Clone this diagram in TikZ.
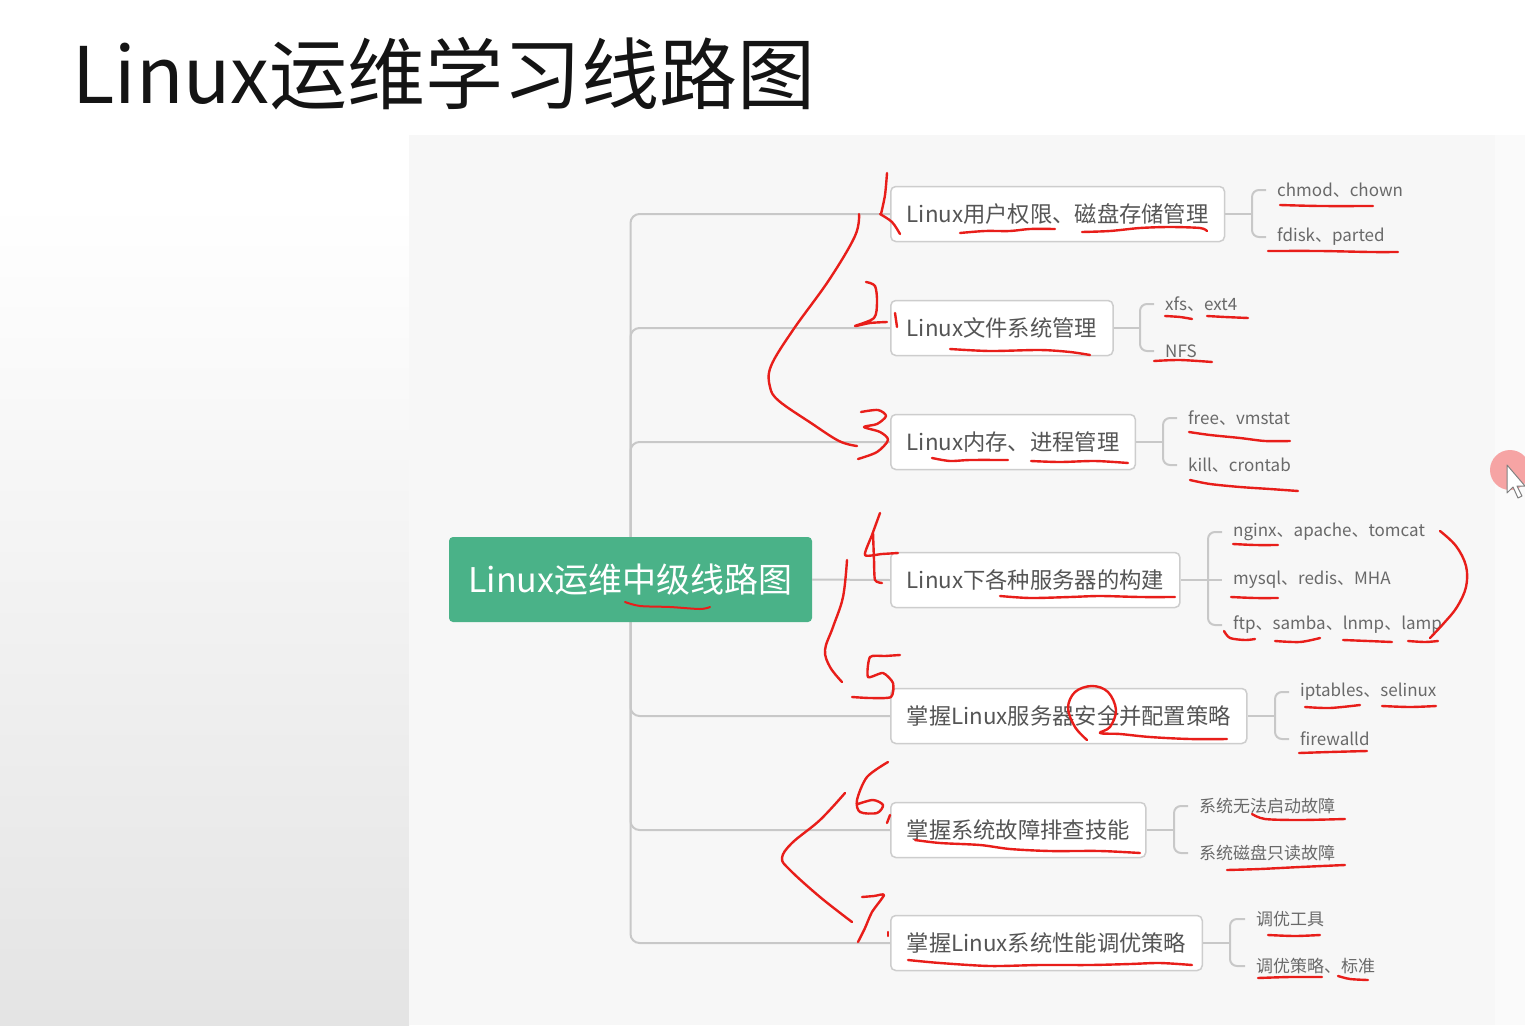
\documentclass[tikz,border=0pt]{standalone}
\usepackage{fontspec}
\setmainfont{Noto Sans CJK SC}
\definecolor{linegray}{RGB}{200,200,200}
\definecolor{boxgray}{RGB}{205,205,205}
\definecolor{textgray}{RGB}{85,85,85}
\definecolor{leafgray}{RGB}{105,105,105}
\definecolor{rootgreen}{RGB}{74,178,136}
\definecolor{inkred}{RGB}{232,30,26}
\definecolor{canvasbg}{RGB}{247,247,247}
\definecolor{pinkdot}{RGB}{246,150,150}
\definecolor{leftbottom}{RGB}{228,228,228}
\definecolor{rightbg}{RGB}{250,250,250}
\definecolor{titleblack}{RGB}{20,20,20}
\begin{document}
\begin{tikzpicture}[x=1pt,y=-1pt,
  conn/.style={draw=linegray, line width=2pt, rounded corners=9pt},
  bconn/.style={draw=linegray, line width=2pt, rounded corners=7pt},
  box/.style={draw=boxgray, line width=1.5pt, fill=white, rounded corners=5pt, anchor=west,
    minimum height=55pt, inner xsep=16pt, inner ysep=0pt, text=textgray,
    font=\fontsize{22.3}{27}\selectfont},
  leaf/.style={anchor=west, inner xsep=0pt, inner ysep=2pt, text=leafgray,
    font=\fontsize{17}{20}\selectfont},
  ink/.style={draw=inkred, line width=2.4pt, line cap=round, line join=round}]
\useasboundingbox (0,0) rectangle (1525,1025);
% background
\fill[white] (0,0) rectangle (1525,1025);
\shade[top color=white, bottom color=leftbottom] (0,200) rectangle (409,1025);
\fill[canvasbg] (409,135) rectangle (1495,1025);
\fill[rightbg] (1495,135) rectangle (1525,1025);
% title
\node[anchor=west, inner sep=0pt, text=titleblack, font=\fontsize{78}{94}\selectfont] (title) at (72,74) {Linux运维学习线路图};
% level-1 boxes
\node[box] (b1) at (890,214) {Linux用户权限、磁盘存储管理};
\node[box] (b2) at (890,328) {Linux文件系统管理};
\node[box] (b3) at (890,442) {Linux内存、进程管理};
\node[box] (b4) at (890,580) {Linux下各种服务器的构建};
\node[box] (b5) at (890,716) {掌握Linux服务器安全并配置策略};
\node[box] (b6) at (890,830) {掌握系统故障排查技能};
\node[box] (b7) at (890,943) {掌握Linux系统性能调优策略};
% trunk
\coordinate (hub) at (630.5,579.5);
\draw[conn] (hub) |- (b1.west);
\draw[conn] (hub) |- (b2.west);
\draw[conn] (hub) |- (b3.west);
\draw[conn] (hub) |- (b5.west);
\draw[conn] (hub) |- (b6.west);
\draw[conn] (hub) |- (b7.west);
\node[fill=rootgreen, rounded corners=4pt, minimum width=363pt, minimum height=85pt, inner sep=0pt, text=white, font=\fontsize{34}{40}\selectfont] (root) at (hub) {Linux运维中级线路图};
\draw[conn] (root.east) -- (b4.west);
% leaves
\node[leaf] (c11) at (1277,190) {chmod、chown};
\node[leaf] (c12) at (1277,237) {fdisk、parted};
\node[leaf] (c21) at (1165,304) {xfs、ext4};
\node[leaf] (c22) at (1165,351) {NFS};
\node[leaf] (c31) at (1188,418) {free、vmstat};
\node[leaf] (c32) at (1188,465) {kill、crontab};
\node[leaf] (c41) at (1233,532) {nginx、apache、tomcat};
\node[leaf] (c42) at (1233,580) {mysql、redis、MHA};
\node[leaf] (c43) at (1233,625) {ftp、samba、lnmp、lamp};
\node[leaf] (c51) at (1300,692) {iptables、selinux};
\node[leaf] (c52) at (1300,739) {firewalld};
\node[leaf] (c61) at (1199,806) {系统无法启动故障};
\node[leaf] (c62) at (1199,853) {系统磁盘只读故障};
\node[leaf] (c71) at (1256,919) {调优工具};
\node[leaf] (c72) at (1256,966) {调优策略、标准};
% junctions
\coordinate (j1) at (1252,214);
\coordinate (j2) at (1140,328);
\coordinate (j3) at (1163,442);
\coordinate (j4) at (1208,580);
\coordinate (j5) at (1275,716);
\coordinate (j6) at (1174,830);
\coordinate (j7) at (1230,943);
\draw[bconn] (b1.east) -- (j1);
\draw[bconn] ([xshift=-11pt]c11.west) -| (j1) |- ([xshift=-11pt]c12.west);
\draw[bconn] (b2.east) -- (j2);
\draw[bconn] ([xshift=-11pt]c21.west) -| (j2) |- ([xshift=-11pt]c22.west);
\draw[bconn] (b3.east) -- (j3);
\draw[bconn] ([xshift=-11pt]c31.west) -| (j3) |- ([xshift=-11pt]c32.west);
\draw[bconn] (b4.east) -- ([xshift=-11pt]c42.west);
\draw[bconn] ([xshift=-11pt]c41.west) -| (j4) |- ([xshift=-11pt]c43.west);
\draw[bconn] (b5.east) -- (j5);
\draw[bconn] ([xshift=-11pt]c51.west) -| (j5) |- ([xshift=-11pt]c52.west);
\draw[bconn] (b6.east) -- (j6);
\draw[bconn] ([xshift=-11pt]c61.west) -| (j6) |- ([xshift=-11pt]c62.west);
\draw[bconn] (b7.east) -- (j7);
\draw[bconn] ([xshift=-11pt]c71.west) -| (j7) |- ([xshift=-11pt]c72.west);
% ---------- red handwriting ----------
% numbers
\draw[ink] plot[smooth] coordinates {(887,173) (885,195) (881,214)};
\draw[ink] plot[smooth] coordinates {(880,214) (892,222) (900,234)};
\draw[ink] plot[smooth, tension=0.5] coordinates {(866,282) (875,286) (877,302) (874,318) (855,326) (870,323) (887,322)};
\draw[ink] (895,313) -- (897,327);
\draw[ink] plot[smooth, tension=0.5] coordinates {(861,412) (878,410) (886,416) (877,424) (864,427) (880,432) (888,440) (877,452) (858,459)};
\draw[ink] plot[smooth, tension=0.4] coordinates {(880,513) (872,535) (865,555) (882,554) (898,553)};
\draw[ink] plot[smooth, tension=0.4] coordinates {(873,533) (874,560) (875,580) (882,583)};
\draw[ink] plot[smooth, tension=0.4] coordinates {(900,655) (885,656) (870,657) (868,677) (883,673) (893,683) (891,697) (870,698) (852,697)};
\draw[ink] plot[smooth, tension=0.5] coordinates {(888,762) (867,777) (857,800) (860,812) (877,813) (883,805) (873,800) (858,804)};
\draw[ink] (890,815) -- (887,823);
\draw[ink] plot[smooth, tension=0.4] coordinates {(862,897) (874,896) (884,895) (872,912) (865,928) (858,942)};
\draw[ink] (888,932) -- (888,936);
% braces
\draw[ink] plot[smooth, tension=0.6] coordinates {(859,214) (855,236) (829,280) (793,330) (771,366) (770,387) (779,401) (811,423) (839,441) (857,446)};
\draw[ink] plot[smooth, tension=0.6] coordinates {(847,560) (843,597) (833,627) (825,650) (830,667) (842,682)};
\draw[ink] plot[smooth, tension=0.6] coordinates {(845,793) (820,820) (792,843) (782,858) (790,870) (820,897) (852,922)};
\draw[ink] plot[smooth, tension=0.6] coordinates {(1440,531) (1456,546) (1466,566) (1466,587) (1457,607) (1444,623) (1430,638)};
% underlines
\draw[ink, line width=2pt] plot[smooth] coordinates {(625,602) (640,606) (670,607) (700,609) (710,607)};
\draw[ink] plot[smooth] coordinates {(960,233) (985,231) (1010,231) (1030,229) (1055,229)};
\draw[ink] plot[smooth] coordinates {(1082,232) (1110,231) (1140,228) (1170,227) (1200,228) (1207,231)};
\draw[ink] plot[smooth] coordinates {(950,349) (990,351) (1040,350) (1070,352) (1090,355)};
\draw[ink] plot[smooth] coordinates {(932,458) (950,461) (970,460) (1008,460)};
\draw[ink] plot[smooth] coordinates {(1031,461) (1060,462) (1095,461) (1128,463)};
\draw[ink] plot[smooth] coordinates {(1000,596) (1030,598) (1070,597) (1100,596) (1140,597) (1175,597)};
\draw[ink] plot[smooth, tension=0.6] coordinates {(1087,740) (1075,727) (1068,708) (1075,692) (1092,686) (1108,692) (1116,710) (1110,727) (1100,733) (1120,734) (1150,737) (1190,739) (1227,739)};
\draw[ink] plot[smooth] coordinates {(915,840) (940,843) (980,845) (1010,849) (1050,851) (1100,851) (1140,853)};
\draw[ink] plot[smooth] coordinates {(908,960) (940,963) (990,966) (1040,965) (1090,965) (1130,964) (1160,963) (1192,965)};
\draw[ink] plot[smooth] coordinates {(1280,205) (1320,206) (1373,206)};
\draw[ink] plot[smooth] coordinates {(1268,251) (1320,251) (1370,252) (1398,252)};
\draw[ink] plot[smooth] coordinates {(1165,316) (1180,317) (1192,319)};
\draw[ink] plot[smooth] coordinates {(1207,316) (1225,317) (1248,318)};
\draw[ink] plot[smooth] coordinates {(1154,361) (1180,360) (1212,362)};
\draw[ink] plot[smooth] coordinates {(1189,432) (1210,435) (1240,438) (1265,441) (1290,441)};
\draw[ink] plot[smooth] coordinates {(1190,480) (1210,484) (1240,487) (1270,489) (1298,491)};
\draw[ink] plot[smooth] coordinates {(1233,544) (1255,545) (1278,545)};
\draw[ink] plot[smooth] coordinates {(1231,597) (1255,598) (1278,598)};
\draw[ink] plot[smooth] coordinates {(1224,631) (1230,638) (1245,640) (1255,639)};
\draw[ink] plot[smooth] coordinates {(1275,641) (1300,642) (1320,638)};
\draw[ink] plot[smooth] coordinates {(1343,640) (1368,641) (1392,642)};
\draw[ink] plot[smooth] coordinates {(1408,641) (1425,642) (1438,641)};
\draw[ink] plot[smooth] coordinates {(1305,707) (1330,708) (1360,705)};
\draw[ink] plot[smooth] coordinates {(1382,706) (1410,707) (1436,706)};
\draw[ink] plot[smooth] coordinates {(1299,753) (1330,752) (1367,751)};
\draw[ink] plot[smooth] coordinates {(1252,814) (1265,819) (1300,820) (1345,819)};
\draw[ink] plot[smooth] coordinates {(1227,870) (1260,869) (1300,867) (1345,865)};
\draw[ink] plot[smooth] coordinates {(1268,935) (1295,936) (1320,935)};
\draw[ink] plot[smooth] coordinates {(1258,978) (1290,977) (1322,977)};
\draw[ink] plot[smooth] coordinates {(1338,976) (1350,979) (1368,980)};
% mouse pointer
\fill[pinkdot, opacity=0.85] (1510,470) circle (20);
\draw[fill=white, draw=gray, line width=1pt, line join=round] (1507,465) -- (1507,493) -- (1513,487) -- (1518,498) -- (1522,496) -- (1517,486) -- (1525,486) -- cycle;
\end{tikzpicture}
\end{document}
